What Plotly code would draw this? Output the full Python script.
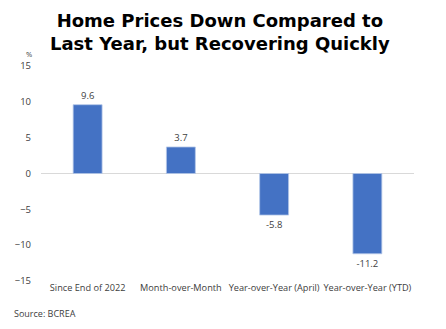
import plotly.graph_objects as go

categories = ["Since End of 2022", "Month-over-Month", "Year-over-Year (April)", "Year-over-Year (YTD)"]
values = [9.6, 3.7, -5.8, -11.2]
labels = ["9.6", "3.7", "-5.8", "-11.2"]
y_ticks = [15, 10, 5, 0, -5, -10, -15]

W, H = 446, 329
l, r, t, b = 41, 32, 66, 48
pw, ph = W - l - r, H - t - b


def px2paper(px, py):
    return (px - l) / pw, (H - b - py) / ph


fig = go.Figure(go.Bar(
    x=categories, y=values, text=labels, textposition="outside",
    textfont=dict(family="Open Sans", size=9.5, color="#404040"),
    marker=dict(color="#4472C4", line=dict(color="#b4c7e7", width=0.8)),
    cliponaxis=False,
))

tx, ty = px2paper(220, 32)
px_, py_ = px2paper(29, 54)
sx, sy = px2paper(12, 313)

fig.update_layout(
    width=W, height=H,
    margin=dict(l=l, r=r, t=t, b=b, autoexpand=False),
    paper_bgcolor="white", plot_bgcolor="white",
    bargap=0.69,
    showlegend=False,
    font=dict(family="Open Sans", size=9, color="#404040"),
    yaxis=dict(
        range=[-15, 15], tickvals=y_ticks, showgrid=False, zeroline=True,
        zerolinecolor="#d9d9d9", zerolinewidth=1, showline=False, automargin=False,
        ticks="", tickfont=dict(size=9.5, color="#404040"), ticklabelstandoff=9,
    ),
    xaxis=dict(showgrid=False, showline=False, ticks="", tickangle=0, automargin=False,
               tickfont=dict(size=9.2, color="#404040")),
    annotations=[
        dict(text="<b>Home Prices Down Compared to<br>Last Year, but Recovering Quickly</b>",
             x=tx, y=ty, xref="paper", yref="paper", showarrow=False,
             xanchor="center", yanchor="middle",
             font=dict(family="DejaVu Sans", size=18, color="black")),
        dict(text="%", x=px_, y=py_, xref="paper", yref="paper", showarrow=False,
             xanchor="center", yanchor="middle",
             font=dict(size=7.5, color="#404040")),
        dict(text="Source: BCREA", x=sx, y=sy, xref="paper", yref="paper",
             showarrow=False, xanchor="left", yanchor="middle",
             font=dict(size=9, color="#404040")),
    ],
)

fig.write_html("out.html")
